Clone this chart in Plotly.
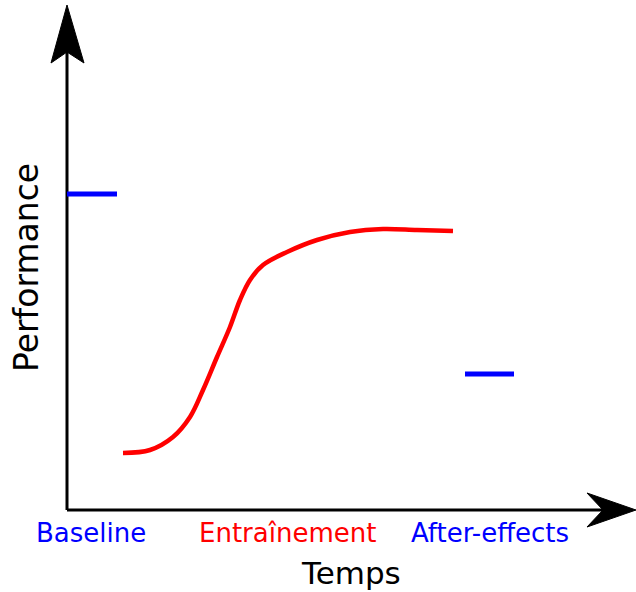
import plotly.graph_objects as go

# ---- data (time units, performance units) ----
baseline_t = [0.0, 1.0]
baseline_perf = [6.32, 6.32]

training_t = [1.12, 1.66, 2.12, 2.46, 2.72, 3.0, 3.26, 3.46, 3.66, 3.92, 4.4, 5.0, 5.66, 6.32, 7.0, 7.72]
training_perf = [1.14, 1.2, 1.46, 1.86, 2.4, 3.06, 3.66, 4.2, 4.6, 4.9, 5.16, 5.4, 5.56, 5.62, 5.6, 5.58]

after_t = [7.96, 8.94]
after_perf = [2.72, 2.72]

phase_labels = ["Baseline", "Entraînement", "After-effects"]
phase_centers = [0.48, 4.4, 8.46]
phase_colors = ["#0000ff", "#ff0000", "#0000ff"]

x_title = "Temps"
y_title = "Performance"

FONT = "DejaVu Sans"
BLUE = "#0000ff"
RED = "#ff0000"

fig = go.Figure()
fig.add_trace(go.Scatter(x=baseline_t, y=baseline_perf, mode="lines",
                         line=dict(color=BLUE, width=5), hoverinfo="skip"))
fig.add_trace(go.Scatter(x=training_t, y=training_perf, mode="lines",
                         line=dict(color=RED, width=4.5, shape="spline", smoothing=1.0),
                         hoverinfo="skip"))
fig.add_trace(go.Scatter(x=after_t, y=after_perf, mode="lines",
                         line=dict(color=BLUE, width=5), hoverinfo="skip"))

shapes = [
    # y axis line
    dict(type="line", x0=0, y0=0, x1=0, y1=9.3, line=dict(color="black", width=3), layer="below"),
    # x axis line
    dict(type="line", x0=0, y0=0, x1=10.8, y1=0, line=dict(color="black", width=3), layer="below"),
    # y arrowhead
    dict(type="path", path="M 0 10.1 L -0.32 8.94 L 0 9.16 L 0.34 8.94 Z",
         fillcolor="black", line=dict(color="black", width=1)),
    # x arrowhead
    dict(type="path", path="M 11.38 0 L 10.4 0.34 L 10.72 0 L 10.4 -0.34 Z",
         fillcolor="black", line=dict(color="black", width=1)),
]

annotations = []
for lab, xc, col in zip(phase_labels, phase_centers, phase_colors):
    annotations.append(dict(x=xc, y=-0.46, text=lab, showarrow=False,
                            font=dict(family=FONT, size=26, color=col),
                            xanchor="center", yanchor="middle"))
annotations.append(dict(x=5.68, y=-1.26, text=x_title, showarrow=False,
                        font=dict(family=FONT, size=31, color="black"),
                        xanchor="center", yanchor="middle"))
annotations.append(dict(x=-0.82, y=4.84, text=y_title, showarrow=False, textangle=-90,
                        font=dict(family=FONT, size=33, color="black"),
                        xanchor="center", yanchor="middle"))

fig.update_layout(
    width=636, height=592,
    margin=dict(l=0, r=0, t=0, b=0),
    paper_bgcolor="white", plot_bgcolor="white",
    showlegend=False,
    xaxis=dict(range=[-1.34, 11.38], visible=False, fixedrange=True),
    yaxis=dict(range=[-1.64, 10.2], visible=False, fixedrange=True),
    shapes=shapes,
    annotations=annotations,
)

fig.write_html("out.html", config={"displayModeBar": False},
               post_script="document.body.style.margin='0';document.body.style.overflow='hidden';")
